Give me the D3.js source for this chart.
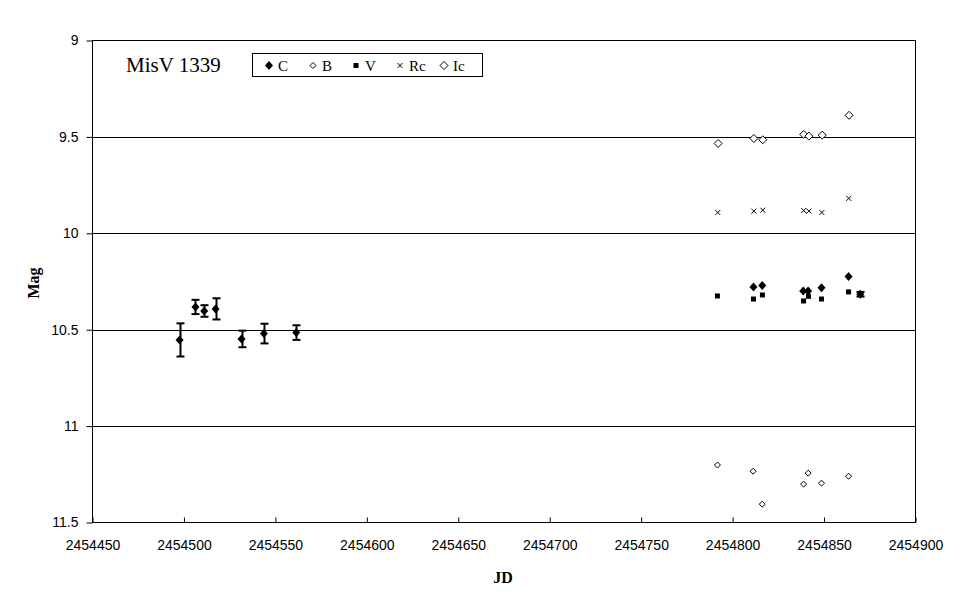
<!DOCTYPE html>
<html><head><meta charset="utf-8">
<script src="https://cdn.jsdelivr.net/npm/d3@7/dist/d3.min.js"></script>
<style>body{margin:0;background:#fff}svg{display:block}</style>
</head><body>
<svg id="c" width="970" height="604"></svg>
<script>
const xTicks = [2454450,2454500,2454550,2454600,2454650,2454700,2454750,2454800,2454850,2454900];
const yTicks = [9,9.5,10,10.5,11,11.5];
const yTickLabels = ["9","9.5","10","10.5","11","11.5"];
// C (with errors)
const cJD  = [2454497.6,2454506.3,2454511.1,2454517.3,2454531.5,2454543.7,2454561.4,2454811.4,2454816.2,2454838.6,2454841.3,2454848.6,2454863.4,2454869.8];
const cMag = [10.553,10.382,10.403,10.392,10.548,10.520,10.515,10.278,10.271,10.299,10.299,10.283,10.224,10.316];
const cErr = [0.086,0.037,0.030,0.055,0.043,0.051,0.038,0,0,0,0,0,0,0.012];
const bJD  = [2454791.7,2454811.2,2454816.2,2454838.8,2454841.3,2454848.6,2454863.4];
const bMag = [11.202,11.234,11.405,11.301,11.244,11.296,11.260];
const vJD  = [2454791.7,2454811.4,2454816.3,2454838.8,2454841.5,2454848.6,2454863.4];
const vMag = [10.325,10.341,10.320,10.351,10.327,10.341,10.304];
const rJD  = [2454791.9,2454811.6,2454816.5,2454838.9,2454841.7,2454848.8,2454863.5];
const rMag = [9.892,9.885,9.880,9.882,9.885,9.892,9.819];
const iJD  = [2454792.1,2454811.6,2454816.5,2454838.9,2454841.7,2454849.0,2454863.7];
const iMag = [9.534,9.508,9.515,9.487,9.496,9.491,9.388];
const legendItems = ["C","B","V","Rc","Ic"];

const svg = d3.select("#c");
const x = d3.scaleLinear().domain([2454450,2454900]).range([92.5,915.5]);
const y = d3.scaleLinear().domain([9,11.5]).range([40.5,522.5]);
const sans = "'Liberation Sans', Arial, sans-serif";
const serif = "'Liberation Serif', 'Times New Roman', serif";

// gridlines
svg.append("g").selectAll("line").data(yTicks.slice(1,-1)).join("line")
  .attr("x1",x.range()[0]).attr("x2",x.range()[1])
  .attr("y1",d=>Math.round(y(d))+0.5).attr("y2",d=>Math.round(y(d))+0.5)
  .attr("stroke","#000").attr("stroke-width",1);

// frame
svg.append("rect").attr("x",92.5).attr("y",40.5).attr("width",823).attr("height",482)
  .attr("fill","none").attr("stroke","#000");

// x axis ticks (inside, upward)
const xa = svg.append("g").attr("transform","translate(0,522.5)")
  .call(d3.axisBottom(x).tickValues(xTicks).tickFormat(d3.format("d")).tickSizeInner(-5).tickSizeOuter(0).tickPadding(12));
xa.select(".domain").remove();
xa.selectAll("text").attr("font-family",sans).attr("font-size",14).attr("fill","#000").attr("dy","0.71em").attr("y",18);
// y axis ticks (outside)
const ya = svg.append("g").attr("transform","translate(92.5,0)")
  .call(d3.axisLeft(y).tickValues(yTicks).tickFormat((d,i)=>yTickLabels[i]).tickSizeInner(6).tickSizeOuter(0).tickPadding(8));
ya.select(".domain").remove();
ya.selectAll("text").attr("font-family",sans).attr("font-size",14).attr("fill","#000");

// axis titles
svg.append("text").attr("x",503).attr("y",583).attr("text-anchor","middle")
  .attr("font-family",serif).attr("font-weight","bold").attr("font-size",16).text("JD");
svg.append("text").attr("transform","translate(39,283) rotate(-90)").attr("text-anchor","middle")
  .attr("font-family",serif).attr("font-weight","bold").attr("font-size",16).text("Mag");

// symbols
const sym = {
  C: (g,px,py)=>g.append("path").attr("d",`M${px},${py-4.5}L${px+4},${py}L${px},${py+4.5}L${px-4},${py}Z`).attr("fill","#000"),
  B: (g,px,py)=>g.append("path").attr("d",`M${px},${py-3}L${px+3},${py}L${px},${py+3}L${px-3},${py}Z`).attr("fill","#fff").attr("stroke","#000").attr("stroke-width",1),
  V: (g,px,py)=>g.append("rect").attr("x",px-2.5).attr("y",py-2.5).attr("width",5).attr("height",5).attr("fill","#000"),
  Rc:(g,px,py)=>g.append("path").attr("d",`M${px-2.5},${py-2.5}L${px+2.5},${py+2.5}M${px+2.5},${py-2.5}L${px-2.5},${py+2.5}`).attr("stroke","#000").attr("stroke-width",1),
  Ic:(g,px,py)=>g.append("path").attr("d",`M${px},${py-4}L${px+4},${py}L${px},${py+4}L${px-4},${py}Z`).attr("fill","#fff").attr("stroke","#000").attr("stroke-width",1)
};

const gp = svg.append("g");
// error bars for C
cJD.forEach((d,i)=>{
  if(cErr[i]>0){
    const px=Math.round(x(d))+0.5, y1=y(cMag[i]-cErr[i]), y2=y(cMag[i]+cErr[i]);
    gp.append("line").attr("x1",px).attr("x2",px).attr("y1",y1).attr("y2",y2).attr("stroke","#000").attr("stroke-width",2);
    [y1,y2].forEach(yy=>gp.append("line").attr("x1",px-4).attr("x2",px+4).attr("y1",yy).attr("y2",yy).attr("stroke","#000").attr("stroke-width",2));
  }
});
const series = [["Ic",iJD,iMag],["Rc",rJD,rMag],["V",vJD,vMag],["B",bJD,bMag],["C",cJD,cMag]];
series.forEach(([k,xs,ys])=>xs.forEach((d,i)=>sym[k](gp,x(d),y(ys[i]))));

// title
svg.append("text").attr("x",126).attr("y",72).attr("font-family",serif).attr("font-size",21).text("MisV 1339");

// legend
svg.append("rect").attr("x",252.5).attr("y",53.5).attr("width",230).attr("height",23).attr("fill","#fff").attr("stroke","#000");
const lx = [269,313,356,400,444];
legendItems.forEach((k,i)=>{
  sym[k](svg,lx[i],65.5);
  svg.append("text").attr("x",lx[i]+9).attr("y",70.5).attr("font-family",serif).attr("font-size",15).text(k);
});
</script>
</body></html>
